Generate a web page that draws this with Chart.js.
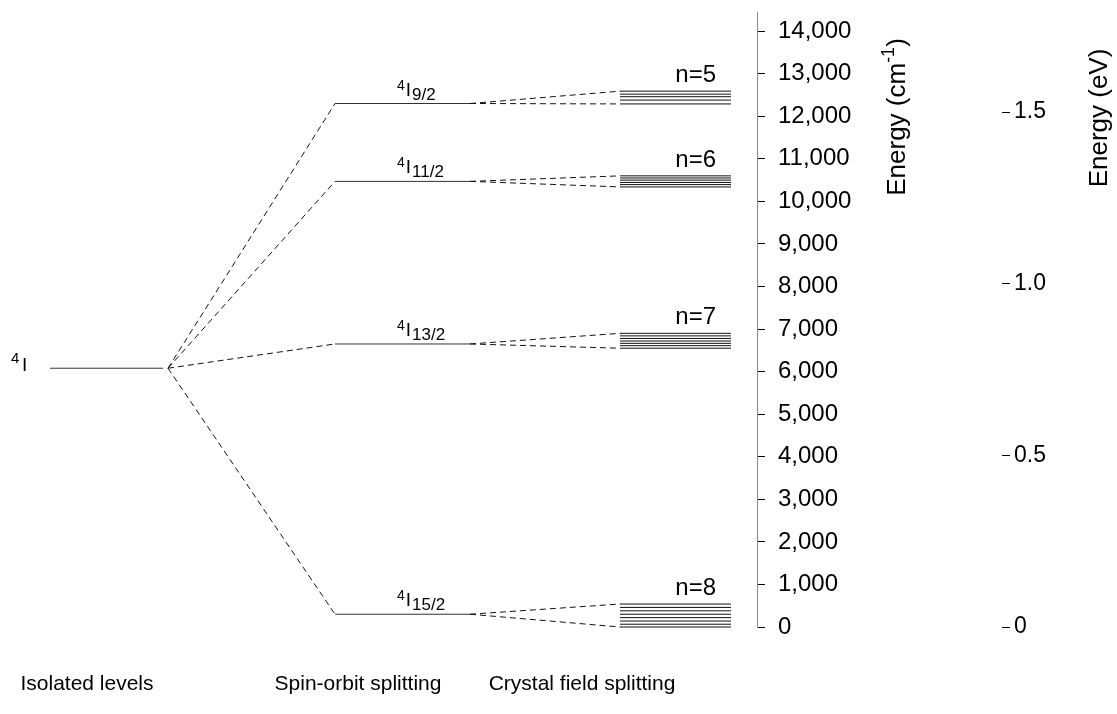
<!DOCTYPE html>
<html>
<head>
<meta charset="utf-8">
<script src="https://cdn.jsdelivr.net/npm/chart.js@4.4.1/dist/chart.umd.min.js"></script>
<style>
  html, body { margin: 0; padding: 0; background: #fff; }
  #wrap { width: 1117px; height: 714px; position: relative; }
</style>
</head>
<body>
<div id="wrap"><canvas id="chart"></canvas></div>
<script>
// Energy levels in cm^-1
const isolatedEnergy = 6080

const multiplets = ['9/2', '11/2', '13/2', '15/2']
const spinOrbitEnergies = [12300, 10470, 6650, 300]

const starkLabels = ['n=5', 'n=6', 'n=7', 'n=8']
const stark92 = [12590, 12520, 12460, 12380, 12290]
const stark112 = [10600, 10550, 10500, 10445, 10395, 10340]
const stark132 = [6900, 6840, 6780, 6720, 6665, 6610, 6550]
const stark152 = [540, 460, 380, 300, 220, 140, 65, 0]
const starkLevels = [stark92, stark112, stark132, stark152]

const columnLabels = ['Isolated levels', 'Spin-orbit splitting', 'Crystal field splitting']

const cmTicks = [0, 1000, 2000, 3000, 4000, 5000, 6000, 7000, 8000, 9000, 10000, 11000, 12000, 13000, 14000]
const evTicks = [0, 0.5, 1.0, 1.5]
const CM_PER_EV = 8065.54
const CM_MAX = 14450

// column layout on the hidden x axis (units = px of the plot area)
const COL_ISO = [50, 163]
const COL_HUB = 168
const COL_SO = [335, 470]
const COL_CF = [620, 731]
const LABEL_CENTERS = [87, 358, 582]

const FONT = "'Liberation Sans', Arial, sans-serif"

// one dataset per line segment
const segments = []
function seg(x1, y1, x2, y2, dashed, color) {
  segments.push({
    data: [{ x: x1, y: y1 }, { x: x2, y: y2 }],
    borderColor: color || '#111',
    borderWidth: 1,
    borderDash: dashed ? [6, 4] : [],
    pointRadius: 0,
    clip: false
  })
}

seg(COL_ISO[0], isolatedEnergy, COL_ISO[1], isolatedEnergy, false, '#333')
spinOrbitEnergies.forEach((e, i) => {
  seg(COL_HUB, isolatedEnergy, COL_SO[0], e, true)
  seg(COL_SO[0], e, COL_SO[1], e, false, '#333')
  const lv = starkLevels[i]
  seg(COL_SO[1], e, COL_CF[0], Math.max(...lv), true)
  seg(COL_SO[1], e, COL_CF[0], Math.min(...lv), true)
  lv.forEach(s => seg(COL_CF[0], s, COL_CF[1], s, false, '#111'))
})

// no extra room for the end tick labels, the plot area must reach the top
function fixScale(width) {
  return s => {
    s.width = width
    s.paddingTop = 0
    s.paddingBottom = 0
  }
}

// text overlay: term symbols, n labels, column captions, axis titles
const labelsPlugin = {
  id: 'levelLabels',
  afterDraw(chart) {
    const ctx = chart.ctx
    const x = chart.scales.x
    const y = chart.scales.y
    ctx.save()
    ctx.fillStyle = '#000'
    ctx.textBaseline = 'alphabetic'

    // 4I isolated
    const yi = y.getPixelForValue(isolatedEnergy)
    ctx.font = '15px ' + FONT
    ctx.fillText('4', 11, yi - 5)
    ctx.font = '19px ' + FONT
    ctx.fillText('I', 22, yi + 3)

    // spin-orbit term labels
    spinOrbitEnergies.forEach((e, i) => {
      const py = y.getPixelForValue(e) - 8
      let px = x.getPixelForValue(397)
      ctx.font = '14px ' + FONT
      ctx.fillText('4', px, py - 6)
      px += ctx.measureText('4').width + 1
      ctx.font = '19px ' + FONT
      ctx.fillText('I', px, py)
      px += ctx.measureText('I').width + 1
      ctx.font = '17px ' + FONT
      ctx.fillText(multiplets[i], px, py + 4)
    })

    // n labels over the Stark manifolds
    ctx.font = '24px ' + FONT
    ctx.textAlign = 'right'
    starkLabels.forEach((t, i) => {
      const py = y.getPixelForValue(Math.max(...starkLevels[i])) - 9
      ctx.fillText(t, x.getPixelForValue(716), py)
    })

    // column captions
    ctx.textAlign = 'center'
    ctx.font = '21px ' + FONT
    columnLabels.forEach((t, i) => {
      ctx.fillText(t, x.getPixelForValue(LABEL_CENTERS[i]), 690)
    })

    // axis titles, reading bottom to top
    ctx.textAlign = 'left'
    ctx.textBaseline = 'middle'
    function vTitle(cx, cy, parts) {
      ctx.save()
      ctx.translate(cx, cy)
      ctx.rotate(-Math.PI / 2)
      let total = 0
      parts.forEach(p => { ctx.font = p.size + 'px ' + FONT; total += ctx.measureText(p.t).width })
      let px = -total / 2
      parts.forEach(p => {
        ctx.font = p.size + 'px ' + FONT
        ctx.fillText(p.t, px, p.dy || 0)
        px += ctx.measureText(p.t).width
      })
      ctx.restore()
    }
    vTitle(898, 117, [{ t: 'Energy (cm', size: 26 }, { t: '-1', size: 18, dy: -9 }, { t: ')', size: 26 }])
    vTitle(1100, 118, [{ t: 'Energy (eV)', size: 26 }])
    ctx.restore()
  }
}

new Chart(document.getElementById('chart'), {
  type: 'line',
  data: { datasets: segments },
  plugins: [labelsPlugin],
  options: {
    responsive: true,
    maintainAspectRatio: false,
    animation: false,
    layout: { padding: { left: 0, right: 0, top: 12, bottom: 87 } },
    plugins: { legend: { display: false }, tooltip: { enabled: false } },
    scales: {
      x: { type: 'linear', display: false, min: 0, max: 757 },
      y: {
        position: 'right',
        weight: 0,
        min: 0,
        max: CM_MAX,
        afterBuildTicks: s => { s.ticks = cmTicks.map(v => ({ value: v })) },
        afterFit: fixScale(245),
        border: { display: true, color: '#888', dash: [1, 1], width: 1 },
        grid: { drawOnChartArea: false, drawTicks: true, tickLength: 8, color: '#000' },
        ticks: {
          color: '#000',
          padding: 13,
          font: { family: FONT, size: 24 },
          callback: v => v.toLocaleString('en-US')
        }
      },
      ev: {
        position: 'right',
        weight: 1,
        min: 0,
        max: CM_MAX / CM_PER_EV,
        afterBuildTicks: s => { s.ticks = evTicks.map(v => ({ value: v })) },
        afterFit: fixScale(115),
        border: { display: false },
        grid: { drawOnChartArea: false, drawTicks: true, tickLength: 8, color: '#000' },
        ticks: {
          color: '#000',
          padding: 4,
          font: { family: FONT, size: 23 },
          callback: v => (v === 0 ? '0' : v.toFixed(1))
        }
      }
    }
  }
})
</script>
</body>
</html>
